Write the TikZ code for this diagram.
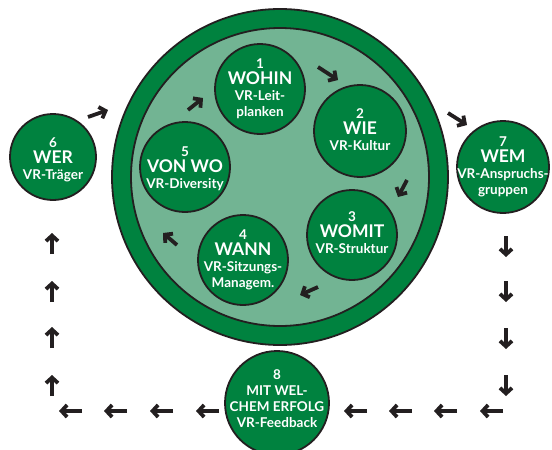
\documentclass[tikz,border=0pt]{standalone}
\usepackage{fontspec}
\setmainfont{Lato}
\usetikzlibrary{arrows.meta}
\definecolor{dgreen}{HTML}{00823F}
\definecolor{lgreen}{HTML}{72B493}
\definecolor{ink}{HTML}{231F20}

\begin{document}
\begin{tikzpicture}[x=1pt,y=-1pt,
  stage/.style={circle,draw=ink,line width=1.8pt,fill=dgreen,inner sep=0pt},
  words/.style={text=white,font=\bfseries\fontsize{13.5}{16}\selectfont,align=center,inner sep=0pt},
  arr/.style={-{Straight Barb[length=5.5pt,width=12pt]},line width=3.8pt,ink}]
\useasboundingbox (0,0) rectangle (552,450);

% big ring
\node[circle,draw=ink,line width=1.8pt,fill=dgreen,minimum size=336pt] (ring) at (280,177) {};
\node[circle,draw=ink,line width=1.8pt,fill=lgreen,minimum size=298pt] (inner) at (280,177) {};

% inner cycle
\node[stage,minimum size=90pt,label={[words]center:1\\{\fontsize{17.5}{18}\selectfont WOHIN}\\VR-Leit-\\planken}] (s1) at (260,89) {};
\node[stage,minimum size=92pt,label={[words,yshift=1pt]center:2\\{\fontsize{17.5}{18}\selectfont WIE}\\VR-Kultur}] (s2) at (360,131) {};
\node[stage,minimum size=90pt,label={[words,yshift=2pt]center:3\\{\fontsize{17.5}{18}\selectfont WOMIT}\\VR-Struktur}] (s3) at (352,235) {};
\node[stage,minimum size=90pt,label={[words]center:4\\{\fontsize{17.5}{18}\selectfont WANN}\\VR-Sitzungs-\\Managem.}] (s4) at (243,260) {};
\node[stage,minimum size=90pt,label={[words,yshift=-2pt]center:5\\{\fontsize{17.5}{18}\selectfont VON WO}\\VR-Diversity}] (s5) at (185,167) {};

\draw[arr] (318,67) -- (338,80);
\draw[arr] (407,180) -- (398,197);
\draw[arr] (318,287) -- (300,295);
\draw[arr] (177,245) -- (163,233);
\draw[arr] (188,110) -- (203,98);

% outer cycle
\node[stage,minimum size=86pt,label={[words,yshift=-3pt]center:6\\{\fontsize{17.5}{18}\selectfont WER}\\VR-Träger}] (s6) at (53,157) {};
\node[stage,minimum size=92pt,label={[words]center:7\\{\fontsize{17.5}{18}\selectfont WEM}\\VR-Anspruchs-\\gruppen}] (s7) at (503,167) {};
\node[stage,minimum size=104pt,label={[words,yshift=4pt]center:8\\MIT WEL-\\CHEM ERFOLG\\VR-Feedback}] (s8) at (277,403) {};

\draw[arr] (88,117) -- (108,110);
\draw[arr] (448,113) -- (467,125);
\foreach \y in {236,281,328,375}
  \draw[arr] (506,\y) -- ++(0,21);
\foreach \x in {503,457,412,367,219,173,127,82}
  \draw[arr] (\x,411) -- ++(-23,0);
\foreach \y in {396,348,302,254}
  \draw[arr] (52,\y) -- ++(0,-21);
\end{tikzpicture}
\end{document}
